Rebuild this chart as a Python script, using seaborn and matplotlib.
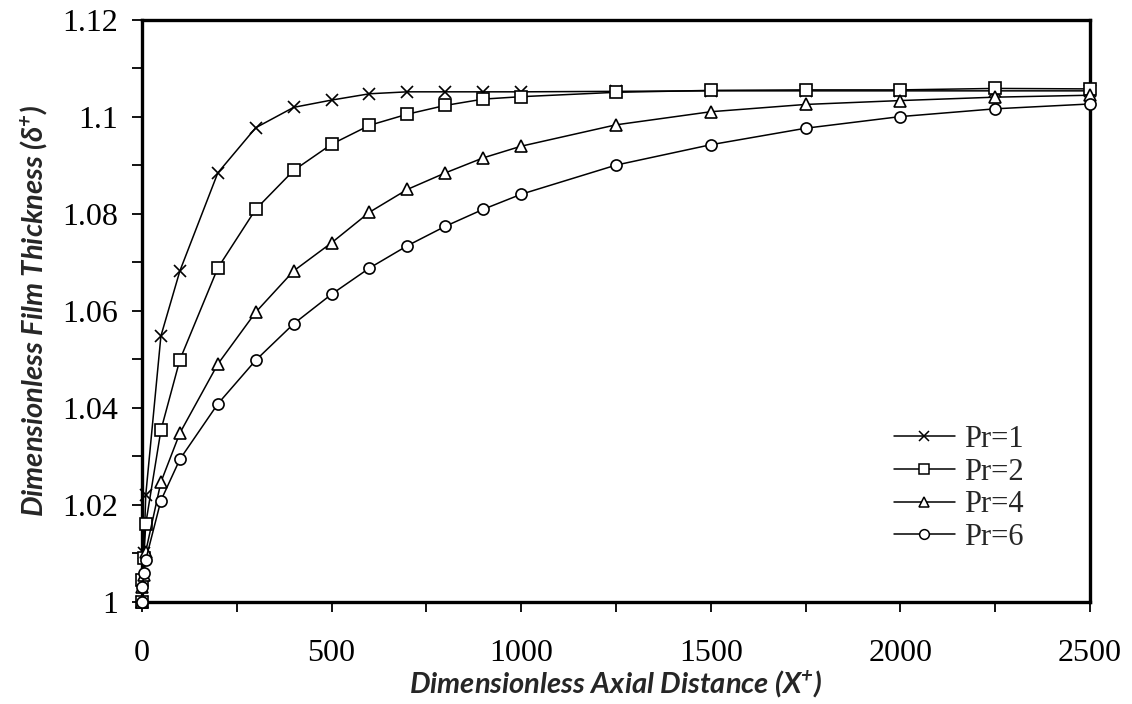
import numpy as np
import pandas as pd
import matplotlib
matplotlib.use("Agg")
import matplotlib.pyplot as plt
from matplotlib.ticker import MultipleLocator, FuncFormatter
from matplotlib.lines import Line2D
import seaborn as sns

# Axial positions and film thickness for each Prandtl number
x_plus = [0, 1, 5, 10, 50, 100, 200, 300, 400, 500, 600, 700, 800, 900, 1000,
          1250, 1500, 1750, 2000, 2250, 2500]
pr_labels = ["Pr=1", "Pr=2", "Pr=4", "Pr=6"]
delta_pr1 = [1.0, 1.0045, 1.010, 1.022, 1.0548, 1.0682, 1.0884, 1.0977, 1.1019, 1.1034,
             1.1047, 1.1051, 1.1051, 1.1051, 1.1051, 1.1052, 1.1053, 1.1053, 1.1053,
             1.1053, 1.1053]
delta_pr2 = [1.0, 1.0045, 1.009, 1.0161, 1.0354, 1.0499, 1.0688, 1.0809, 1.0889, 1.0943,
             1.0982, 1.1005, 1.1023, 1.1036, 1.1041, 1.1050, 1.1054, 1.1055, 1.1055,
             1.1058, 1.1057]
delta_pr4 = [1.0, 1.003, 1.0056, 1.0104, 1.0247, 1.0348, 1.0490, 1.0597, 1.0682, 1.0740,
             1.0803, 1.0850, 1.0884, 1.0915, 1.0939, 1.0983, 1.1010, 1.1025, 1.1033,
             1.1040, 1.1044]
delta_pr6 = [1.0, 1.003, 1.006, 1.0087, 1.0209, 1.0294, 1.0408, 1.0498, 1.0573, 1.0634,
             1.0688, 1.0734, 1.0774, 1.0809, 1.0840, 1.0900, 1.0942, 1.0976, 1.1000,
             1.1016, 1.1026]

series = [delta_pr1, delta_pr2, delta_pr4, delta_pr6]
marker_map = {"Pr=1": "x", "Pr=2": "s", "Pr=4": "^", "Pr=6": "o"}

df = pd.concat(
    [pd.DataFrame({"X": x_plus, "delta": vals, "Pr": lab})
     for lab, vals in zip(pr_labels, series)],
    ignore_index=True,
)

sns.set_style("ticks")
plt.rcParams["font.family"] = ["Liberation Serif", "DejaVu Serif"]
plt.rcParams["mathtext.fontset"] = "custom"
plt.rcParams["mathtext.rm"] = "Lato:bold:italic"
plt.rcParams["mathtext.it"] = "Lato:bold:italic"
plt.rcParams["mathtext.bf"] = "Lato:bold:italic"

fig = plt.figure(figsize=(11.32, 7.04), dpi=100)
ax = fig.add_axes([0.1254, 0.1449, 0.8375, 0.8274])

# One curve per Prandtl number, each with its own marker
for lab in pr_labels:
    sub = df[df["Pr"] == lab]
    sns.lineplot(
        data=sub, x="X", y="delta", color="black", linewidth=1.1,
        estimator=None, sort=True, legend=False,
        marker=marker_map[lab], markersize=8, markerfacecolor="white",
        markeredgecolor="black", markeredgewidth=1.2,
        ax=ax, clip_on=False, zorder=3,
    )

ax.set_xlim(0, 2500)
ax.set_ylim(1.0, 1.12)
ax.xaxis.set_major_locator(MultipleLocator(500))
ax.xaxis.set_minor_locator(MultipleLocator(250))
ax.yaxis.set_major_locator(MultipleLocator(0.02))
ax.yaxis.set_minor_locator(MultipleLocator(0.01))
ax.yaxis.set_major_formatter(FuncFormatter(lambda v, p: f"{round(v, 4):g}"))
ax.xaxis.set_major_formatter(FuncFormatter(lambda v, p: f"{int(round(v))}"))

for side in ["left", "right", "top", "bottom"]:
    ax.spines[side].set_visible(True)
    ax.spines[side].set_linewidth(2.4)
    ax.spines[side].set_color("black")

ax.tick_params(axis="both", which="both", direction="out", width=1.3,
               colors="black", labelsize=23)
ax.tick_params(axis="both", which="major", length=7)
ax.tick_params(axis="both", which="minor", length=7)
ax.tick_params(axis="y", which="major", pad=10)
ax.tick_params(axis="x", which="major", pad=20)

label_font = dict(family=["Lato", "DejaVu Sans"], weight="bold", style="italic",
                  size=21)
ax.set_xlabel(r"Dimensionless Axial Distance (X$^{+}$)", labelpad=0, **label_font)
ax.set_ylabel("Dimensionless Film Thickness (\u03b4$^{+}$)", labelpad=10, **label_font)

handles = [
    Line2D([], [], color="black", lw=1.1, marker=marker_map[lab], markersize=7,
           markerfacecolor="white", markeredgecolor="black", markeredgewidth=1.1)
    for lab in pr_labels
]
ax.legend(handles, pr_labels, loc="upper left", bbox_to_anchor=(0.78, 0.325),
          frameon=False, fontsize=22, handlelength=2.0, handletextpad=0.3,
          labelspacing=0.12, borderaxespad=0.0)

fig.savefig("out.png", dpi=100, facecolor="white")
